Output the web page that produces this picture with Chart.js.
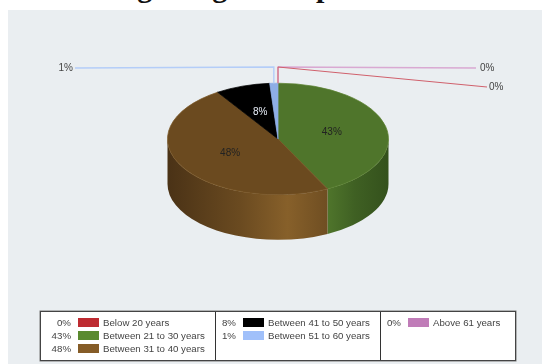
<!DOCTYPE html>
<html>
<head>
<meta charset="utf-8">
<title>According to Age Group</title>
<script src="https://cdn.jsdelivr.net/npm/chart.js@4"></script>
<style>
html, body { margin: 0; padding: 0; background: #fff; overflow: hidden; }
#pagina { position: relative; width: 542px; height: 364px; overflow: hidden; font-family: "Liberation Sans", sans-serif; }
#titulo { position: absolute; left: 19px; top: -30px; white-space: nowrap; font: bold 30px/34px "Liberation Serif", serif; color: #111; }
#panel { position: absolute; left: 8px; top: 10px; width: 534px; height: 354px; background: #eaeef1; }
#grafica { position: absolute; left: 0; top: 0; }
#leyenda { position: absolute; left: 40px; top: 311px; width: 474px; height: 48px; background: #fff; border: 1px solid #444; box-shadow: 0 0 0 .5px #777; font-size: 9.7px; color: #444; }
.col { position: absolute; top: 0; height: 48px; border-left: 1px solid #333; }
.fila { position: absolute; height: 13px; line-height: 13px; white-space: nowrap; }
.fila i { position: absolute; top: 2px; width: 21px; height: 9px; }
.fila b { position: absolute; font-weight: normal; text-align: right; width: 25px; left: 0; }
.fila span { position: absolute; left: 0; }
</style>
</head>
<body>
<div id="pagina">
    <div id="titulo">According to Age Group</div>
    <div id="panel"></div>
    <canvas id="grafica" width="542" height="364"></canvas>
    <div id="leyenda"></div>
</div>
<script>
const categorias = ["Below 20 years", "Between 21 to 30 years", "Between 31 to 40 years", "Between 41 to 50 years", "Between 51 to 60 years", "Above 61 years"];
const valores = [0, 42.6, 48.2, 8, 1.2, 0];
const coloresTapa = ["#be2b31", "#4f752b", "#6b4a1f", "#000000", "#8eaee6", "#c07cb8"];
const coloresLeyenda = ["#be2b31", "#5a8a2f", "#855c27", "#000000", "#a0c0fa", "#c07cb8"];
const coloresLinea = ["#d0606c", null, null, null, "#b4cdf8", "#d9a9d2"];

const centroX = 278, centroY = 139, aplastado = 0.505, fondo = 45;

// paredes del pastel, por debajo de las tapas
function dibujarParedes(chart) {
    const ctx = chart.ctx;
    const arcos = chart.getDatasetMeta(0).data;
    const paredes = {
        1: [[0, "#4f752b"], [0.45, "#3f6023"], [1, "#34511c"]],
        2: [[0, "#4a3216"], [0.45, "#6a4a20"], [0.75, "#87602a"], [1, "#6f4e22"]]
    };
    ctx.save();
    arcos.forEach(function(arco, i) {
        if (!paredes[i]) return;
        const r = arco.outerRadius, ry = r * aplastado;
        const a1 = Math.max(arco.startAngle, 0), a2 = Math.min(arco.endAngle, Math.PI);
        if (a2 <= a1) return;
        const xs = [arco.x + r * Math.cos(a1), arco.x + r * Math.cos(a2)];
        const g = ctx.createLinearGradient(Math.min(xs[0], xs[1]), 0, Math.max(xs[0], xs[1]), 0);
        paredes[i].forEach(function(p) { g.addColorStop(p[0], p[1]); });
        ctx.beginPath();
        ctx.ellipse(arco.x, arco.y, r, ry, 0, a1, a2);
        ctx.ellipse(arco.x, arco.y + fondo, r, ry, 0, a2, a1, true);
        ctx.closePath();
        ctx.fillStyle = g;
        ctx.fill();
    });
    ctx.restore();
}

// lineas guia y porcentajes
function dibujarEtiquetas(chart) {
    const ctx = chart.ctx;
    const arcos = chart.getDatasetMeta(0).data;
    const guias = { 0: [487, 87, 489], 4: [75, 68, 73], 5: [476, 68, 480] };
    const codo = 67;
    ctx.save();
    ctx.font = "10px 'Liberation Sans', sans-serif";
    ctx.textBaseline = "middle";
    [5, 0, 4].forEach(function(i) {
        const arco = arcos[i], r = arco.outerRadius;
        const medio = (arco.startAngle + arco.endAngle) / 2;
        const x = arco.x + r * Math.cos(medio), y = arco.y + r * aplastado * Math.sin(medio);
        const g = guias[i];
        ctx.lineWidth = i == 0 ? 1 : 1.4;
        ctx.strokeStyle = coloresLinea[i];
        ctx.beginPath();
        ctx.moveTo(x, y);
        ctx.lineTo(x, codo);
        ctx.lineTo(g[0], g[1]);
        ctx.stroke();
        ctx.fillStyle = "#444";
        ctx.textAlign = i == 4 ? "right" : "left";
        ctx.fillText(Math.round(valores[i]) + "%", g[2], g[1]);
    });
    arcos.forEach(function(arco, i) {
        if (valores[i] < 5) return;
        const medio = (arco.startAngle + arco.endAngle) / 2, f = 0.5 * arco.outerRadius;
        ctx.fillStyle = i == 3 ? "#e8eef8" : "#222";
        ctx.textAlign = "center";
        ctx.fillText(Math.round(valores[i]) + "%", arco.x + f * Math.cos(medio), arco.y + f * aplastado * Math.sin(medio));
    });
    ctx.restore();
}

const pastel3d = {
    id: "pastel3d",
    beforeDatasetsDraw: dibujarParedes,
    beforeDatasetDraw: function(chart) {
        const ctx = chart.ctx;
        ctx.save();
        ctx.translate(0, centroY);
        ctx.scale(1, aplastado);
        ctx.translate(0, -centroY);
    },
    afterDatasetDraw: function(chart) {
        chart.ctx.restore();
    },
    afterDatasetsDraw: dibujarEtiquetas
};

var grafica = document.getElementById("grafica");
var myPieChart = new Chart(grafica, {
    type: "pie",
    data: {
        labels: categorias,
        datasets: [{
            data: valores,
            backgroundColor: coloresTapa,
            borderColor: ["#be2b31", "#5c8232", "#7a5524", "#000000", "#8eaee6", "#c07cb8"],
            borderWidth: 1
        }]
    },
    options: {
        responsive: false,
        animation: false,
        layout: { padding: { left: centroX - 111, right: 542 - centroX - 111, top: centroY - 111, bottom: 364 - centroY - 111 } },
        plugins: { legend: { display: false }, tooltip: { enabled: false } }
    },
    plugins: [pastel3d]
});

// leyenda en tres columnas
const leyenda = document.getElementById("leyenda");
const columnas = [[0, 1, 2], [3, 4], [5]];
const xColumna = [0, 174, 339];
const xFila = [5, 170, 335];
columnas.forEach(function(col, c) {
    if (c > 0) {
        const linea = document.createElement("div");
        linea.className = "col";
        linea.style.left = xColumna[c] + "px";
        leyenda.appendChild(linea);
    }
    col.forEach(function(i, n) {
        const fila = document.createElement("div");
        fila.className = "fila";
        fila.style.left = xFila[c] + "px";
        fila.style.top = (4 + n * 13) + "px";
        fila.innerHTML = "<b>" + Math.round(valores[i]) + "%</b><i style='left:32px;background:" + coloresLeyenda[i] + "'></i><span style='left:57px'>" + categorias[i] + "</span>";
        leyenda.appendChild(fila);
    });
});
</script>
</body>
</html>
